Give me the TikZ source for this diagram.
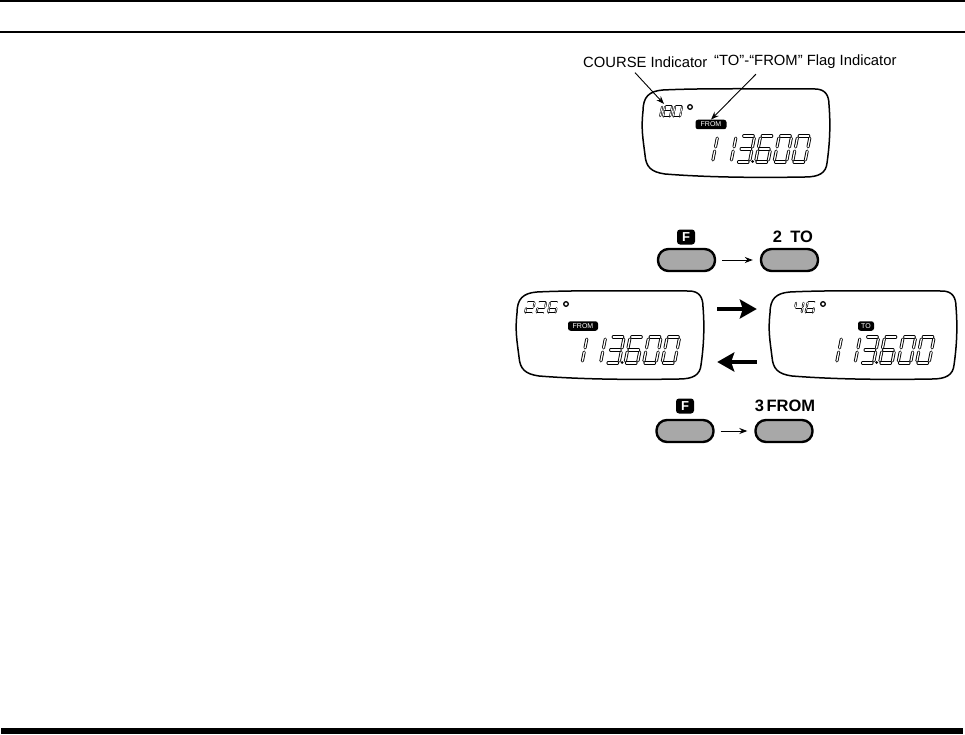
\documentclass[tikz,border=0pt]{standalone}
\usepackage{fontspec}
\setmainfont{Liberation Sans}
\usetikzlibrary{arrows.meta,calc}
\definecolor{btngray}{RGB}{168,168,168}
\tikzset{
 lcdline/.style={line width=1.5pt, line join=round},
 seg/.style={draw=black, double=white, double distance=1.3pt, line width=0.9pt, line cap=round},
 sseg/.style={draw=black, double=white, double distance=0.8pt, line width=0.6pt, line cap=round},
 badge/.style={fill=black, text=white, rounded corners=2.5pt, inner sep=0pt, font=\fontsize{7}{7}\selectfont, minimum height=9.5pt},
 fbadge/.style={fill=black, text=white, rounded corners=3pt, inner sep=0pt, minimum width=18pt, minimum height=15pt, font=\bfseries\fontsize{13}{13}\selectfont},
 btn/.style={draw=black, line width=2.4pt, fill=btngray, rounded corners=10.5pt, minimum width=57pt, minimum height=22pt, inner sep=0pt},
 lab/.style={font=\fontsize{14.8}{15}\selectfont, inner sep=0pt},
 blab/.style={font=\bfseries\fontsize{16.5}{16}\selectfont, inner sep=0pt},
 thinarr/.style={line width=0.9pt, -{Stealth[length=8pt,width=6pt]}},
 bigarr/.style={line width=4.2pt, -{Stealth[length=17pt,width=19pt,inset=3pt]}},
 degring/.style={draw=black, line width=1.3pt, fill=white},
 ghost/.style={inner sep=0pt, minimum width=186pt, minimum height=88pt},
}
% one segment: #1 x0, #2 bottom y, #3 w, #4 h, #5 style, #6..#9 normalised end points
\newcommand\sg[9]{\draw[#5] ({#1+(#6)*#3+0.2*(#7)*#4},{#2-(#7)*#4}) -- ({#1+(#8)*#3+0.2*(#9)*#4},{#2-(#9)*#4});}
\newcommand\sA[5]{\sg{#1}{#2}{#3}{#4}{#5}{0.12}{1}{0.88}{1}}
\newcommand\sB[5]{\sg{#1}{#2}{#3}{#4}{#5}{1}{0.92}{1}{0.58}}
\newcommand\sC[5]{\sg{#1}{#2}{#3}{#4}{#5}{1}{0.42}{1}{0.08}}
\newcommand\sD[5]{\sg{#1}{#2}{#3}{#4}{#5}{0.12}{0}{0.88}{0}}
\newcommand\sE[5]{\sg{#1}{#2}{#3}{#4}{#5}{0}{0.08}{0}{0.42}}
\newcommand\sF[5]{\sg{#1}{#2}{#3}{#4}{#5}{0}{0.58}{0}{0.92}}
\newcommand\sG[5]{\sg{#1}{#2}{#3}{#4}{#5}{0.12}{0.5}{0.88}{0.5}}
\newcommand\dZero[5]{\sA{#1}{#2}{#3}{#4}{#5}\sB{#1}{#2}{#3}{#4}{#5}\sC{#1}{#2}{#3}{#4}{#5}\sD{#1}{#2}{#3}{#4}{#5}\sE{#1}{#2}{#3}{#4}{#5}\sF{#1}{#2}{#3}{#4}{#5}}
\newcommand\dOne[5]{\sB{#1}{#2}{#3}{#4}{#5}\sC{#1}{#2}{#3}{#4}{#5}}
\newcommand\dTwo[5]{\sA{#1}{#2}{#3}{#4}{#5}\sB{#1}{#2}{#3}{#4}{#5}\sG{#1}{#2}{#3}{#4}{#5}\sE{#1}{#2}{#3}{#4}{#5}\sD{#1}{#2}{#3}{#4}{#5}}
\newcommand\dThree[5]{\sA{#1}{#2}{#3}{#4}{#5}\sB{#1}{#2}{#3}{#4}{#5}\sG{#1}{#2}{#3}{#4}{#5}\sC{#1}{#2}{#3}{#4}{#5}\sD{#1}{#2}{#3}{#4}{#5}}
\newcommand\dFour[5]{\sF{#1}{#2}{#3}{#4}{#5}\sG{#1}{#2}{#3}{#4}{#5}\sB{#1}{#2}{#3}{#4}{#5}\sC{#1}{#2}{#3}{#4}{#5}}
\newcommand\dSix[5]{\sA{#1}{#2}{#3}{#4}{#5}\sF{#1}{#2}{#3}{#4}{#5}\sG{#1}{#2}{#3}{#4}{#5}\sE{#1}{#2}{#3}{#4}{#5}\sD{#1}{#2}{#3}{#4}{#5}\sC{#1}{#2}{#3}{#4}{#5}}
\newcommand\dEight[5]{\dZero{#1}{#2}{#3}{#4}{#5}\sG{#1}{#2}{#3}{#4}{#5}}
\newcommand\lcdshape[2]{\draw[lcdline, shift={(#1,#2)}] (0,22) .. controls (0,8) and (6,2) .. (20,1) .. controls (60,-1) and (126,0) .. (172,0) .. controls (182,0) and (186,6) .. (186,16) .. controls (188,40) and (186,60) .. (184,74) .. controls (183,84) and (176,88) .. (162,88) .. controls (106,89) and (60,88) .. (22,85) .. controls (8,83) and (3,78) .. (2,66) .. controls (0,50) and (-2,40) .. cycle;}
% big readout 113.600: #1 x0, #2 bottom y
\newcommand\bigread[2]{%
 \dOne{#1}{#2}{12.5}{26}{seg}
 \dOne{#1+18.5}{#2}{12.5}{26}{seg}
 \dThree{#1+37}{#2}{12.5}{26}{seg}
 \dSix{#1+55.5}{#2}{12.5}{26}{seg}
 \dZero{#1+74}{#2}{12.5}{26}{seg}
 \dZero{#1+92.5}{#2}{12.5}{26}{seg}
 \fill ({#1+52.5},{#2-0.5}) circle (1.5pt);}
\begin{document}
\begin{tikzpicture}[x=1pt,y=-1pt]
\useasboundingbox (0,0) rectangle (965,735);
% rules
\draw[line width=2pt] (0,1.2) -- (965,1.2);
\draw[line width=2.4pt] (0,31.8) -- (965,31.8);
\fill[black] (1,728) rectangle (963,734);
% ---- top display
\lcdshape{643}{89}
\dOne{653}{117}{7}{11}{sseg}
\dEight{663}{117}{7}{11}{sseg}
\dZero{673}{117}{7}{11}{sseg}
\draw[degring] (690,107) circle (2.3pt);
\node[badge, minimum width=31pt] (fromA) at (711,124.5) {FROM};
\bigread{700}{162}
\node[lab, anchor=west] (course) at (583,62) {COURSE Indicator};
\node[lab, anchor=west] (flag) at (714,62) {“TO”-“FROM” Flag Indicator};
\coordinate (crs) at (664,104);
\draw[thinarr] ($(course.south west)+(52,5)$) -- (crs);
\draw[thinarr] ($(flag.south west)+(42,5)$) -- (fromA.north);
% ---- buttons top
\node[btn] (f1) at (686.5,260) {};
\node[btn] (to) at (789.5,260) {};
\node[fbadge] (f1l) at (686,237) {F};
\node[blab] (tol) at (793,237) {2\hspace{0.5em}TO};
\draw[thinarr] ([xshift=6pt]f1.east) -- ([xshift=-7pt]to.west);
% ---- displays
\node[ghost] (lcdL) at (610,335) {};
\node[ghost] (lcdR) at (863,335) {};
\lcdshape{517}{291}
\dTwo{525}{313}{7.5}{11}{sseg}
\dTwo{536.5}{313}{7.5}{11}{sseg}
\dSix{548}{313}{7.5}{11}{sseg}
\draw[degring] (566,304) circle (2.3pt);
\node[badge, minimum width=30pt] (fromB) at (583,326) {FROM};
\bigread{569.5}{363}
\lcdshape{770}{291}
\dFour{794}{313}{7.5}{11}{sseg}
\dSix{805.5}{313}{7.5}{11}{sseg}
\draw[degring] (823,304) circle (2.3pt);
\node[badge, minimum width=16pt] (toB) at (866,326) {TO};
\bigread{824}{363}
\draw[bigarr] ([xshift=14pt,yshift=26pt]lcdL.east) -- ([xshift=-13pt,yshift=26pt]lcdR.west);
\draw[bigarr] ([xshift=-13pt,yshift=-27pt]lcdR.west) -- ([xshift=14pt,yshift=-27pt]lcdL.east);
% ---- buttons bottom
\node[btn] (f2) at (685,431) {};
\node[btn] (from) at (784,431) {};
\node[fbadge] (f2l) at (685,406) {F};
\node[blab] (froml) at (785,406) {3\hspace{0.15em}FROM};
\draw[thinarr] ([xshift=6pt]f2.east) -- ([xshift=-7pt]from.west);
\end{tikzpicture}
\end{document}
